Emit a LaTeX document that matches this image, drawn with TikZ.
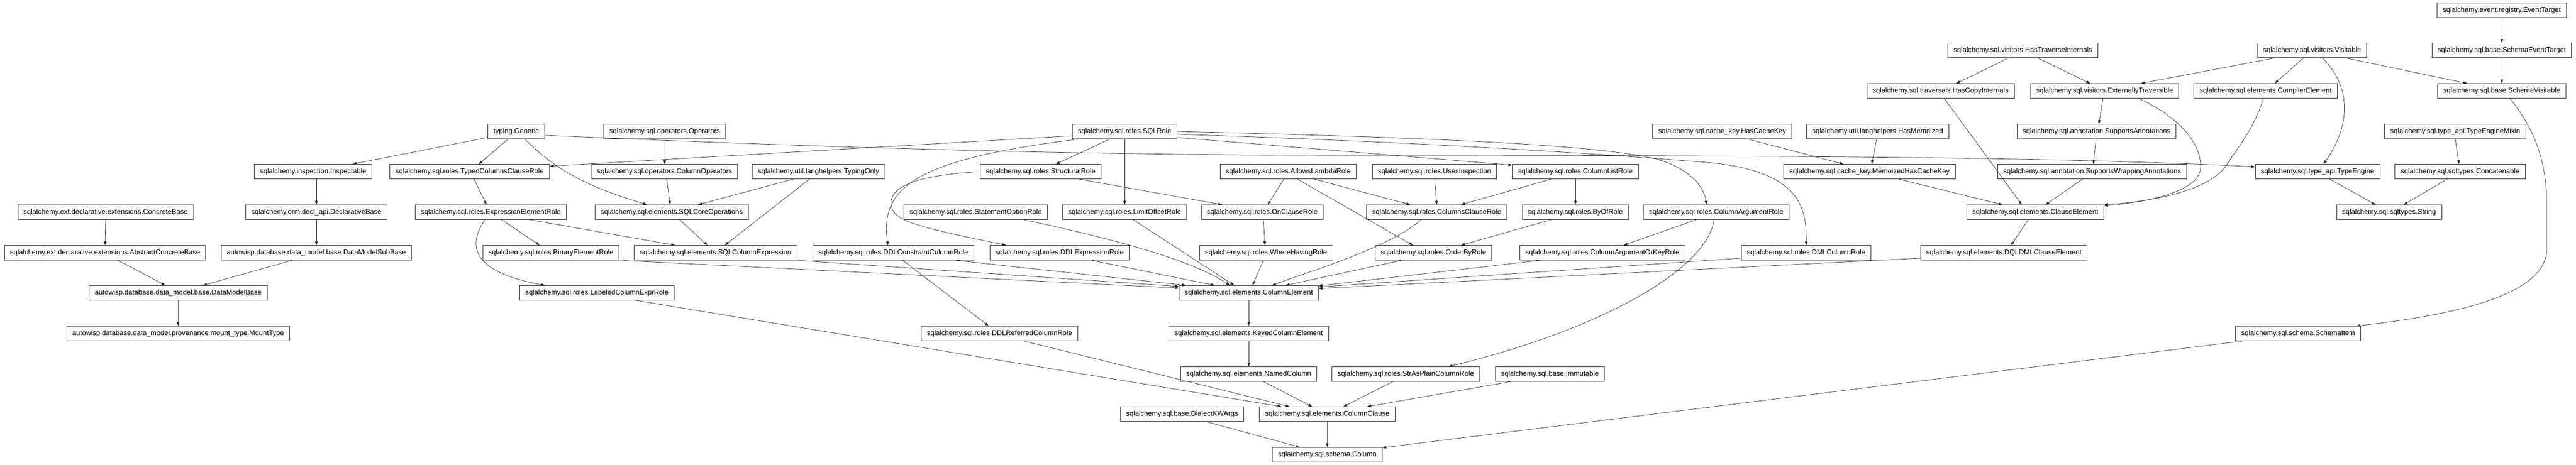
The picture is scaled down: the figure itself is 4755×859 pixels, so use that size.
\documentclass[tikz,border=0pt]{standalone}
\usepackage{fontspec}
\setmainfont{Liberation Sans}
\usetikzlibrary{arrows.meta}
\begin{document}
\begin{tikzpicture}[x=1pt,y=-1pt,
  box/.style={draw=black!80, line width=0.9pt, rectangle, minimum height=27pt, inner xsep=10.4pt, inner ysep=0pt, font=\fontsize{13pt}{15pt}\selectfont, fill=white},
  arr/.style={draw=black!85, line width=0.7pt, -{Triangle[length=7pt,width=5pt]}}]
\useasboundingbox (0,0) rectangle (4755,859);
% Row A
\node[box] (evt) at (4618,19) {sqlalchemy.event.registry.EventTarget};
% Row B
\node[box] (hti) at (3734,93) {sqlalchemy.sql.visitors.HasTraverseInternals};
\node[box] (vis) at (4268,93) {sqlalchemy.sql.visitors.Visitable};
\node[box] (set) at (4618,93) {sqlalchemy.sql.base.SchemaEventTarget};
% Row C
\node[box] (hci) at (3582,168) {sqlalchemy.sql.traversals.HasCopyInternals};
\node[box] (ext) at (3885,168) {sqlalchemy.sql.visitors.ExternallyTraversible};
\node[box] (cpe) at (4182,168) {sqlalchemy.sql.elements.CompilerElement};
\node[box] (svs) at (4618,168) {sqlalchemy.sql.base.SchemaVisitable};
% Row D
\node[box] (gen) at (953,243) {typing.Generic};
\node[box] (ops) at (1227,243) {sqlalchemy.sql.operators.Operators};
\node[box] (sqr) at (2076,243) {sqlalchemy.sql.roles.SQLRole};
\node[box] (hck) at (3179,243) {sqlalchemy.sql.cache\_key.HasCacheKey};
\node[box] (hmz) at (3466,243) {sqlalchemy.util.langhelpers.HasMemoized};
\node[box] (san) at (3870,243) {sqlalchemy.sql.annotation.SupportsAnnotations};
\node[box] (tem) at (4532,243) {sqlalchemy.sql.type\_api.TypeEngineMixin};
% Row E
\node[box] (ins) at (578,317) {sqlalchemy.inspection.Inspectable};
\node[box] (tcc) at (867,317) {sqlalchemy.sql.roles.TypedColumnsClauseRole};
\node[box] (cop) at (1227,317) {sqlalchemy.sql.operators.ColumnOperators};
\node[box] (tyo) at (1511,317) {sqlalchemy.util.langhelpers.TypingOnly};
\node[box] (str) at (1921,317) {sqlalchemy.sql.roles.StructuralRole};
\node[box] (alr) at (2378,317) {sqlalchemy.sql.roles.AllowsLambdaRole};
\node[box] (usi) at (2648,317) {sqlalchemy.sql.roles.UsesInspection};
\node[box] (clr) at (2908,317) {sqlalchemy.sql.roles.ColumnListRole};
\node[box] (mhc) at (3451,317) {sqlalchemy.sql.cache\_key.MemoizedHasCacheKey};
\node[box] (swa) at (3862,317) {sqlalchemy.sql.annotation.SupportsWrappingAnnotations};
\node[box] (tye) at (4278,317) {sqlalchemy.sql.type\_api.TypeEngine};
\node[box] (cct) at (4541,317) {sqlalchemy.sql.sqltypes.Concatenable};
% Row F
\node[box] (cnb) at (195,392) {sqlalchemy.ext.declarative.extensions.ConcreteBase};
\node[box] (dcb) at (584,392) {sqlalchemy.orm.decl\_api.DeclarativeBase};
\node[box] (eer) at (906,392) {sqlalchemy.sql.roles.ExpressionElementRole};
\node[box] (sco) at (1240,392) {sqlalchemy.sql.elements.SQLCoreOperations};
\node[box] (sor) at (1801,392) {sqlalchemy.sql.roles.StatementOptionRole};
\node[box] (lor) at (2076,392) {sqlalchemy.sql.roles.LimitOffsetRole};
\node[box] (ocr) at (2330,392) {sqlalchemy.sql.roles.OnClauseRole};
\node[box] (ccr) at (2652,392) {sqlalchemy.sql.roles.ColumnsClauseRole};
\node[box] (bor) at (2908,392) {sqlalchemy.sql.roles.ByOfRole};
\node[box] (car) at (3168,392) {sqlalchemy.sql.roles.ColumnArgumentRole};
\node[box] (cle) at (3757,392) {sqlalchemy.sql.elements.ClauseElement};
\node[box] (sst) at (4410,392) {sqlalchemy.sql.sqltypes.String};
% Row G
\node[box] (acb) at (194,467) {sqlalchemy.ext.declarative.extensions.AbstractConcreteBase};
\node[box] (dms) at (584,467) {autowisp.database.data\_model.base.DataModelSubBase};
\node[box] (ber) at (1017,467) {sqlalchemy.sql.roles.BinaryElementRole};
\node[box] (sce) at (1321,467) {sqlalchemy.sql.elements.SQLColumnExpression};
\node[box] (dcc) at (1649,467) {sqlalchemy.sql.roles.DDLConstraintColumnRole};
\node[box] (der) at (1956,467) {sqlalchemy.sql.roles.DDLExpressionRole};
\node[box] (whr) at (2337,467) {sqlalchemy.sql.roles.WhereHavingRole};
\node[box] (obr) at (2646,467) {sqlalchemy.sql.roles.OrderByRole};
\node[box] (cak) at (2958,467) {sqlalchemy.sql.roles.ColumnArgumentOrKeyRole};
\node[box] (dml) at (3334,467) {sqlalchemy.sql.roles.DMLColumnRole};
\node[box] (dqd) at (3699,467) {sqlalchemy.sql.elements.DQLDMLClauseElement};
% Row H
\node[box] (dmb) at (329,541) {autowisp.database.data\_model.base.DataModelBase};
\node[box] (lce) at (1102,541) {sqlalchemy.sql.roles.LabeledColumnExprRole};
\node[box] (cel) at (2305,541) {sqlalchemy.sql.elements.ColumnElement};
% Row I
\node[box] (mnt) at (329,616) {autowisp.database.data\_model.provenance.mount\_type.MountType};
\node[box] (drc) at (1845,616) {sqlalchemy.sql.roles.DDLReferredColumnRole};
\node[box] (kce) at (2305,616) {sqlalchemy.sql.elements.KeyedColumnElement};
\node[box] (sit) at (4242,616) {sqlalchemy.sql.schema.SchemaItem};
% Row J
\node[box] (nmc) at (2305,691) {sqlalchemy.sql.elements.NamedColumn};
\node[box] (spc) at (2595,691) {sqlalchemy.sql.roles.StrAsPlainColumnRole};
\node[box] (imm) at (2861,691) {sqlalchemy.sql.base.Immutable};
% Row K
\node[box] (dkw) at (2182,765) {sqlalchemy.sql.base.DialectKWArgs};
\node[box] (ccl) at (2450,765) {sqlalchemy.sql.elements.ColumnClause};
% Row L
\node[box] (col) at (2450,840) {sqlalchemy.sql.schema.Column};

% ---- edges ----
\draw[arr] (cnb.south) -- (acb.north);
\draw[arr] (dcb.south) -- (dms.north);
\draw[arr] ([xshift=24pt]acb.south) -- ([xshift=-24pt]dmb.north);
\draw[arr] ([xshift=-45pt]dms.south) -- ([xshift=46pt]dmb.north);
\draw[arr] (dmb) -- (mnt);
\draw[arr] ([xshift=6pt]ins.south) -- (dcb.north);
\draw[arr] ([yshift=3pt]gen.south west) -- ([xshift=73pt]ins.north);
\draw[arr] ([xshift=-15pt]gen.south) -- ([xshift=17pt]tcc.north);
\draw[arr] ([xshift=16pt]gen.south) .. controls (1040,330) and (1120,355) .. ([xshift=-46pt]sco.north);
\draw[arr] ([yshift=7pt]gen.south east) .. controls (1500,272) and (2000,287) .. (2500,287) .. controls (3300,287) and (3800,290) .. ([yshift=-5pt]tye.north west);
\draw[arr] ([yshift=6pt]sqr.south west) -- ([yshift=-4pt]tcc.north east);
\draw[arr] (ops) -- (cop);
\draw[arr] ([xshift=3.6pt]cop.south) -- ([xshift=-3pt]sco.north);
\draw[arr] ([xshift=-47pt]tyo.south) -- ([xshift=49pt]sco.north);
\draw[arr] ([xshift=-17pt]tyo.south) -- ([xshift=17pt]sce.north);
\draw[arr] ([xshift=8pt]tcc.south) -- ([xshift=-8pt]eer.north);
\draw[arr] ([xshift=20pt]eer.south) -- ([xshift=-21pt]ber.north);
\draw[arr] ([xshift=72pt]eer.south) -- ([xshift=-75pt]sce.north);
\draw[arr] ([xshift=-10.6pt]eer.south) .. controls (868,445) and (858,500) .. ([xshift=-96pt]lce.north);
\draw[arr] ([xshift=14.6pt]sco.south) -- ([xshift=-15pt]sce.north);
\draw[arr] (ber.south east) -- ([yshift=-5pt]cel.north west);
\draw[arr] (sce.south east) -- ([yshift=-2pt]cel.north west);
\draw[arr] ([xshift=115pt]dcc.south) -- ([xshift=-116pt]cel.north);
\draw[arr] ([xshift=-84pt]sqr.south) .. controls (1680,295) and (1625,350) .. ([xshift=-10pt]dcc.north);
\draw[arr] (str.west) .. controls (1690,324) and (1640,345) .. (1645,380) .. controls (1650,410) and (1700,420) .. ([xshift=-99pt]der.north);
\draw[arr] ([xshift=-27.5pt]sqr.south) -- ([xshift=28pt]str.north);
\draw[arr] (sqr.south) -- (lor.north);
\draw[arr] ([yshift=3pt]sqr.south east) -- ([yshift=-2pt]clr.north west);
\draw[arr] (sqr.east) .. controls (2700,255) and (2950,270) .. (3050,292) .. controls (3110,306) and (3145,340) .. ([xshift=-18pt]car.north);
\draw[arr] ([yshift=-5pt]sqr.east) .. controls (2600,262) and (2900,280) .. (3150,300) .. controls (3320,315) and (3335,380) .. (dml.north);
\draw[arr] ([xshift=71pt]str.south) -- ([xshift=-74pt]ocr.north);
\draw[arr] ([xshift=-8pt]alr.south) -- ([xshift=10pt]ocr.north);
\draw[arr] ([xshift=17pt]alr.south) -- ([xshift=-38pt]obr.north);
\draw[arr] ([xshift=48pt]alr.south) -- ([xshift=-49pt]ccr.north);
\draw[arr] (usi.south) -- (ccr.north);
\draw[arr] ([xshift=-45pt]clr.south) -- ([xshift=45pt]ccr.north);
\draw[arr] (clr.south) -- (bor.north);
\draw[arr] ([xshift=2pt]ocr.south) -- ([xshift=-2pt]whr.north);
\draw[arr] ([xshift=-28.5pt]ccr.south) .. controls (2560,460) and (2420,500) .. ([xshift=43pt]cel.north);
\draw[arr] ([xshift=-45pt]bor.south) -- ([xshift=51pt]obr.north);
\draw[arr] ([xshift=-5pt]whr.south) -- ([xshift=7pt]cel.north);
\draw[arr] ([xshift=-59pt]obr.south) -- ([xshift=68pt]cel.north);
\draw[arr] ([xshift=-37pt]car.south) -- ([xshift=39pt]cak.north);
\draw[arr] ([xshift=-115pt]cak.south) -- ([yshift=-1pt]cel.north east);
\draw[arr] ([yshift=4pt]dml.south west) -- ([yshift=-3pt]cel.north east);
\draw[arr] ([yshift=4pt]dqd.south west) -- ([yshift=-6pt]cel.north east);
\draw[arr] ([xshift=16pt]lor.south) -- ([xshift=-27pt]cel.north);
\draw[arr] ([xshift=89pt]sor.south) .. controls (2050,440) and (2200,480) .. ([xshift=-35pt]cel.north);
\draw[arr] ([xshift=59pt]der.south) -- ([xshift=-63pt]cel.north);
\draw[arr] ([xshift=17pt]dcc.south) -- ([xshift=-20pt]drc.north);
\draw[arr] ([xshift=45pt]drc.south) -- ([xshift=-70pt]ccl.north);
\draw[arr] ([xshift=72pt]lce.south) -- ([xshift=-85pt]ccl.north);
\draw[arr] (cel) -- (kce);
\draw[arr] (kce) -- (nmc);
\draw[arr] ([xshift=27pt]nmc.south) -- ([xshift=-28pt]ccl.north);
\draw[arr] ([xshift=-24pt]spc.south) -- ([xshift=30pt]ccl.north);
\draw[arr] ([xshift=-72pt]imm.south) -- ([xshift=74pt]ccl.north);
\draw[arr] ([xshift=-4pt]car.south) .. controls (3150,500) and (2950,610) .. ([xshift=79pt]spc.north);
\draw[arr] ([xshift=45pt]dkw.south) -- ([xshift=-51pt]col.north);
\draw[arr] (ccl) -- (col);
\draw[arr] ([xshift=-102pt]sit.south) -- ([yshift=-1pt]col.north east);
\draw[arr] ([xshift=15pt]svs.south) .. controls (4680,240) and (4701,300) .. (4701,380) -- (4701,460) .. controls (4701,540) and (4550,580) .. ([xshift=-8pt]sit.north east);
\draw[arr] ([xshift=47pt]hck.south) -- ([xshift=-48pt]mhc.north);
\draw[arr] ([xshift=-2pt]hmz.south) -- ([xshift=4pt]mhc.north);
\draw[arr] ([xshift=54pt]mhc.south) -- ([xshift=-61pt]cle.north);
\draw[arr] ([xshift=-26pt]hti.south) -- ([xshift=29pt]hci.north);
\draw[arr] ([xshift=27pt]hti.south) -- ([xshift=-27pt]ext.north);
\draw[arr] ([xshift=-3pt]ext.south) -- ([xshift=4pt]san.north);
\draw[arr] ([xshift=7pt]hci.south) -- ([xshift=-25pt]cle.north);
\draw[arr] ([xshift=63pt]ext.south) .. controls (4030,220) and (4064,270) .. (4062,310) .. controls (4060,350) and (3980,372) .. ([yshift=-2pt]cle.north east);
\draw[arr] ([xshift=-4pt]cpe.south) .. controls (4160,240) and (4125,280) .. (4110,305) .. controls (4080,350) and (3980,372) .. (cle.north east);
\draw[arr] ([xshift=-1pt]san.south) -- ([xshift=2pt]swa.north);
\draw[arr] ([xshift=-18pt]swa.south) -- ([xshift=19pt]cle.north);
\draw[arr] (evt) -- (set);
\draw[arr] (set) -- (svs);
\draw[arr] ([xshift=-68pt]vis.south) -- ([xshift=67pt]ext.north);
\draw[arr] ([xshift=-16pt]vis.south) -- ([xshift=17pt]cpe.north);
\draw[arr] ([xshift=19pt]vis.south) .. controls (4340,160) and (4340,230) .. ([xshift=11pt]tye.north);
\draw[arr] ([xshift=61pt]vis.south) -- ([xshift=-64pt]svs.north);
\draw[arr] (tem.south) -- ([xshift=-2pt]cct.north);
\draw[arr] ([xshift=22.6pt]tye.south) -- ([xshift=-25pt]sst.north);
\draw[arr] ([xshift=-24pt]cct.south) -- ([xshift=27pt]sst.north);
\draw[arr] ([xshift=-13pt]cle.south) -- ([xshift=13pt]dqd.north);
\end{tikzpicture}
\end{document}
